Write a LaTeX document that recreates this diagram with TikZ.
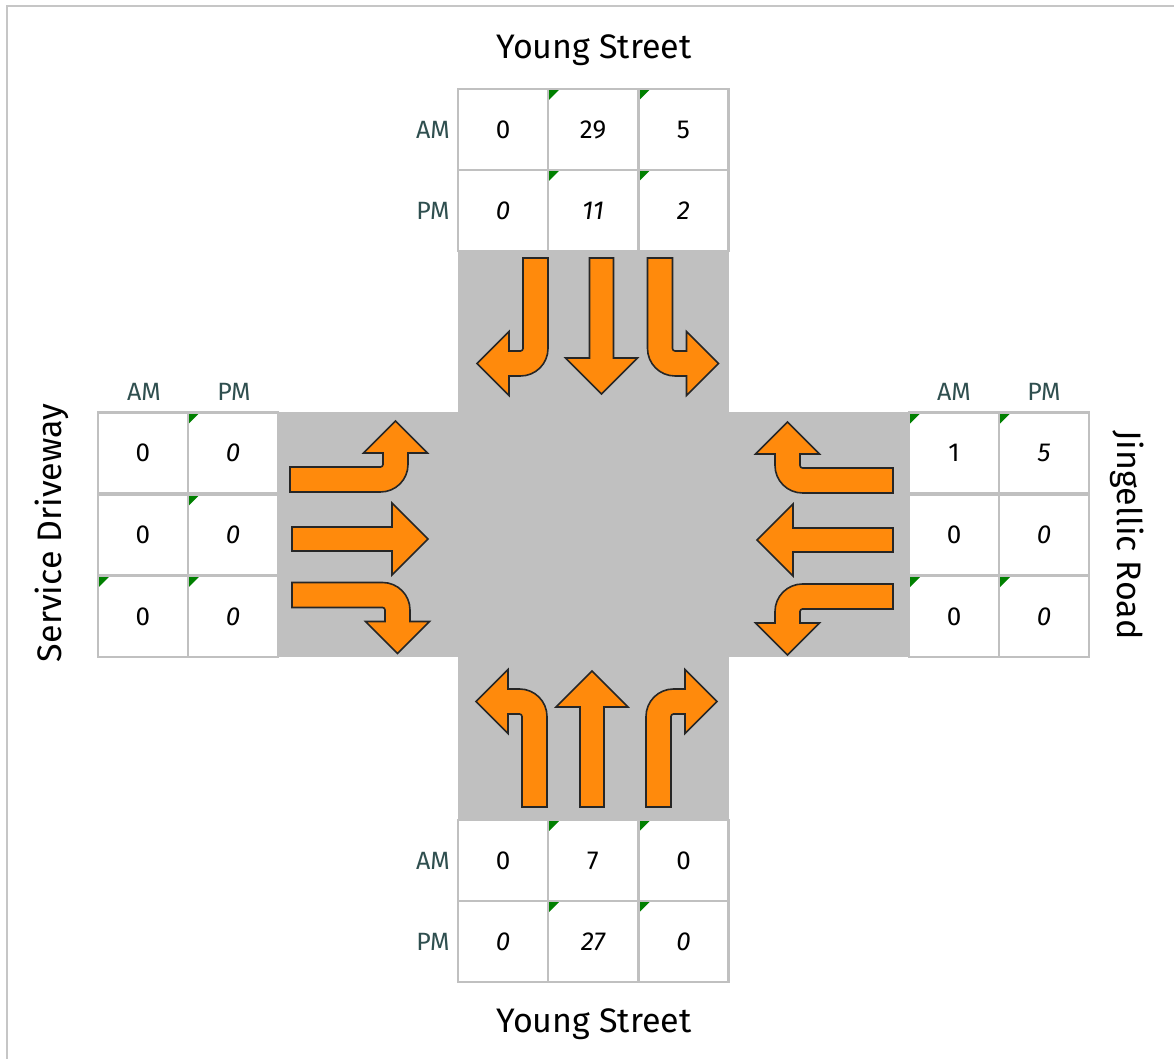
\documentclass[tikz,border=0pt]{standalone}
\usepackage{fontspec}
\setmainfont{Fira Sans}
\usetikzlibrary{positioning}
\definecolor{roadgray}{HTML}{C0C0C0}
\definecolor{lblslate}{HTML}{2F4F4F}
\definecolor{arroworange}{HTML}{FF8A0C}
\definecolor{flaggreen}{HTML}{008000}

\tikzset{
  pics/thru/.style={code={
    \draw[arr] (-12,0) -- (-12,100) -- (-36,100) -- (0,136) -- (36,100) -- (12,100) -- (12,0) -- cycle;}},
  pics/leftturn/.style={code={
    \draw[arr] (12.5,0) -- (12.5,90.5) arc[start angle=0,end angle=90,radius=27.5pt] -- (-26.5,118)
      -- (-26.5,137.5) -- (-58.5,105.5) -- (-26.5,73.5) -- (-26.5,93) -- (-15,93)
      arc[start angle=90,end angle=0,radius=2.5pt] -- (-12.5,0) -- cycle;}},
  pics/rightturn/.style={code={
    \draw[arr] (-12.5,0) -- (-12.5,90.5) arc[start angle=180,end angle=90,radius=27.5pt] -- (26.5,118)
      -- (26.5,137.5) -- (58.5,105.5) -- (26.5,73.5) -- (26.5,93) -- (15,93)
      arc[start angle=90,end angle=180,radius=2.5pt] -- (12.5,0) -- cycle;}}
}

\begin{document}
\begin{tikzpicture}[x=1pt, y=1pt,
    arr/.style={draw=black!85, fill=arroworange, line width=1.6pt, line join=miter},
    cell/.style={draw=roadgray, line width=2.5pt, fill=white, minimum width=90pt, minimum height=81pt,
      inner sep=0pt, font=\fontsize{26}{30}\selectfont},
    pmcell/.style={cell, font=\fontsize{26}{30}\selectfont\itshape},
    flag/.style={path picture={\fill[flaggreen] (path picture bounding box.north west) -- ++(12pt,0pt) -- ++(-12pt,-12pt) -- cycle;}},
    lbl/.style={text=lblslate, font=\fontsize{25}{28}\selectfont},
    street/.style={font=\fontsize{34}{38}\selectfont}]
  \useasboundingbox (0,0) rectangle (1174,1059);
  \draw[gray!45, line width=2pt] (7,0) -- (7,1053) -- (1174,1053);

  % roads
  \fill[roadgray] (458,239) rectangle (729,808);
  \fill[roadgray] (277,402) rectangle (910,647);

  % north approach
  \node[cell]         (nA1) at (503,929.5)   {0};
  \node[cell, flag]   (nA2) at (593,929.5)   {29};
  \node[cell, flag]   (nA3) at (683.5,929.5) {5};
  \node[pmcell]       (nP1) at (503,848.5)   {0};
  \node[pmcell, flag] (nP2) at (593,848.5)   {11};
  \node[pmcell, flag] (nP3) at (683.5,848.5) {2};
  \node[lbl] (nAM) at (433,929.5) {AM};
  \node[lbl] (nPM) at (433,848.5) {PM};
  \node[street] (nName) at (594,1009) {Young Street};

  % south approach
  \node[cell]         (sA1) at (503,198.5)   {0};
  \node[cell, flag]   (sA2) at (593,198.5)   {7};
  \node[cell, flag]   (sA3) at (683.5,198.5) {0};
  \node[pmcell]       (sP1) at (503,117.5)   {0};
  \node[pmcell, flag] (sP2) at (593,117.5)   {27};
  \node[pmcell, flag] (sP3) at (683.5,117.5) {0};
  \node[lbl] (sAM) at (433,198.5) {AM};
  \node[lbl] (sPM) at (433,117.5) {PM};
  \node[street] (sName) at (594,35) {Young Street};

  % west approach
  \node[cell]         (wA1) at (143,606)   {0};
  \node[pmcell, flag] (wP1) at (233,606)   {0};
  \node[cell]         (wA2) at (143,524)   {0};
  \node[pmcell, flag] (wP2) at (233,524)   {0};
  \node[cell, flag]   (wA3) at (143,442.5) {0};
  \node[pmcell, flag] (wP3) at (233,442.5) {0};
  \node[lbl] (wAM) at (144,667) {AM};
  \node[lbl] (wPM) at (234,667) {PM};
  \node[street, rotate=90] (wName) at (52,526) {Service Driveway};

  % east approach
  \node[cell, flag]   (eA1) at (954,606)    {1};
  \node[pmcell, flag] (eP1) at (1044,606)   {5};
  \node[cell]         (eA2) at (954,524)    {0};
  \node[pmcell]       (eP2) at (1044,524)   {0};
  \node[cell, flag]   (eA3) at (954,442.5)  {0};
  \node[pmcell, flag] (eP3) at (1044,442.5) {0};
  \node[lbl] (eAM) at (954,667)  {AM};
  \node[lbl] (ePM) at (1044,667) {PM};
  \node[street, rotate=-90] (eName) at (1127,524) {Jingellic Road};

  % movement arrows
  \pic at (534.5,252) {leftturn};
  \pic at (592,252) {thru};
  \pic at (658.5,252) {rightturn};
  \pic[rotate=180] at (535.5,801) {rightturn};
  \pic[rotate=180] at (601.5,801) {thru};
  \pic[rotate=180] at (660,801) {leftturn};
  \pic[rotate=-90] at (290,579.5) {leftturn};
  \pic[rotate=-90] at (292,520) {thru};
  \pic[rotate=-90] at (292,464) {rightturn};
  \pic[rotate=90] at (893,578.5) {rightturn};
  \pic[rotate=90] at (893,519) {thru};
  \pic[rotate=90] at (893,462.5) {leftturn};
\end{tikzpicture}
\end{document}
